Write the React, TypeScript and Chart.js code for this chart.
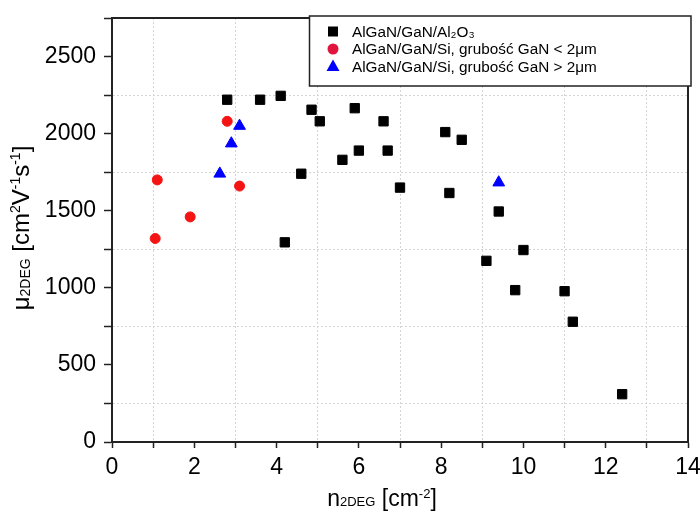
import React, { useEffect, useRef } from 'react';
import { Chart, registerables } from 'chart.js';

Chart.register(...registerables);

const FONT = '"Liberation Sans", Arial, Helvetica, sans-serif';

// AlGaN/GaN/Al2O3 (black squares)
const sapphireN = [2.8, 3.6, 4.1, 4.85, 5.05, 5.9, 6.6, 4.6, 4.2, 5.6, 6.0, 6.7, 7.0, 8.1, 8.5, 8.2, 9.4, 10.0, 9.1, 9.8, 11.0, 11.2, 12.4];
const sapphireMu = [2220, 2220, 2245, 2155, 2080, 2165, 2080, 1740, 1295, 1830, 1890, 1890, 1650, 2010, 1960, 1615, 1495, 1245, 1175, 985, 978, 780, 310];

// AlGaN/GaN/Si, GaN < 2 µm (red circles)
const siThinN = [1.1, 1.9, 1.05, 2.8, 3.1];
const siThinMu = [1700, 1460, 1320, 2080, 1660];

// AlGaN/GaN/Si, GaN > 2 µm (blue triangles)
const siThickN = [2.62, 2.9, 3.1, 9.4];
const siThickMu = [1740, 1936, 2050, 1683];

const seriesLabels = [
  'AlGaN/GaN/Al₂O₃',
  'AlGaN/GaN/Si, grubość GaN < 2μm',
  'AlGaN/GaN/Si, grubość GaN > 2μm',
];

const xTickLabels = [0, 2, 4, 6, 8, 10, 12, 14];
const yTickLabels = [0, 500, 1000, 1500, 2000, 2500];

type Run = { t: string; size: number; dy: number };

const xTitleRuns: Run[] = [
  { t: 'n', size: 23, dy: 0 },
  { t: '2DEG', size: 13, dy: 0 },
  { t: ' [cm', size: 23, dy: 0 },
  { t: '-2', size: 13, dy: -8 },
  { t: ']', size: 23, dy: 0 },
];

const yTitleRuns: Run[] = [
  { t: 'μ', size: 24, dy: 0 },
  { t: '2DEG', size: 14, dy: 1 },
  { t: ' [cm', size: 24, dy: 0 },
  { t: '2', size: 14, dy: -9 },
  { t: 'V', size: 24, dy: 0 },
  { t: '-1', size: 14, dy: -9 },
  { t: 's', size: 24, dy: 0 },
  { t: '-1', size: 14, dy: -9 },
  { t: ']', size: 24, dy: 0 },
];

function runsWidth(ctx: CanvasRenderingContext2D, runs: Run[]) {
  let w = 0;
  for (const r of runs) {
    ctx.font = `${r.size}px ${FONT}`;
    w += ctx.measureText(r.t).width;
  }
  return w;
}

function drawRuns(ctx: CanvasRenderingContext2D, runs: Run[], x: number, y: number) {
  let cx = x;
  ctx.textBaseline = 'alphabetic';
  ctx.textAlign = 'left';
  for (const r of runs) {
    ctx.font = `${r.size}px ${FONT}`;
    ctx.fillText(r.t, cx, y + r.dy);
    cx += ctx.measureText(r.t).width;
  }
}

function drawMarker(ctx: CanvasRenderingContext2D, style: string, x: number, y: number, color: string) {
  ctx.save();
  ctx.fillStyle = color;
  ctx.beginPath();
  if (style === 'rect') {
    ctx.rect(x - 5, y - 5, 10, 10);
  } else if (style === 'circle') {
    ctx.arc(x, y, 5.5, 0, Math.PI * 2);
  } else {
    ctx.moveTo(x, y - 7);
    ctx.lineTo(x + 6.5, y + 4.5);
    ctx.lineTo(x - 6.5, y + 4.5);
    ctx.closePath();
  }
  ctx.fill();
  ctx.restore();
}

const framePlugin = {
  id: 'frame',
  beforeDatasetsDraw(chart: any) {
    const { ctx, chartArea } = chart;
    ctx.save();
    ctx.strokeStyle = '#222';
    ctx.lineWidth = 2;
    ctx.beginPath();
    ctx.moveTo(chartArea.left, chartArea.top);
    ctx.lineTo(chartArea.right, chartArea.top);
    ctx.lineTo(chartArea.right, chartArea.bottom);
    ctx.stroke();
    ctx.restore();
  },
  afterDraw(chart: any) {
    const { ctx } = chart;
    ctx.save();
    ctx.fillStyle = '#000';
    // x title
    const xw = runsWidth(ctx, xTitleRuns);
    drawRuns(ctx, xTitleRuns, 382 - xw / 2, 506);
    // y title
    const yw = runsWidth(ctx, yTitleRuns);
    ctx.translate(29, 228);
    ctx.rotate(-Math.PI / 2);
    drawRuns(ctx, yTitleRuns, -yw / 2, 0);
    ctx.restore();

    // legend box
    ctx.save();
    const bx = 309.5, by = 16, bw = 381.5, bh = 70;
    ctx.fillStyle = '#fff';
    ctx.fillRect(bx, by, bw, bh);
    ctx.strokeStyle = '#222';
    ctx.lineWidth = 1.5;
    ctx.strokeRect(bx, by, bw, bh);
    const rows = [31.5, 49, 66.5];
    chart.data.datasets.forEach((ds: any, i: number) => {
      drawMarker(ctx, ds.pointStyle, 333, rows[i], ds.legendColor || ds.backgroundColor);
      ctx.fillStyle = '#000';
      ctx.font = `15.3px ${FONT}`;
      ctx.textBaseline = 'middle';
      ctx.textAlign = 'left';
      ctx.fillText(ds.label, 352, rows[i] + 1);
    });
    ctx.restore();
  },
};

export default function App() {
  const ref = useRef<HTMLCanvasElement>(null);

  useEffect(() => {
    if (!ref.current) return;
    const toPts = (xs: number[], ys: number[]) => xs.map((x, i) => ({ x, y: ys[i] }));
    const chart = new Chart(ref.current, {
      type: 'scatter',
      data: {
        datasets: [
          {
            label: seriesLabels[0],
            data: toPts(sapphireN, sapphireMu),
            pointStyle: 'rect',
            backgroundColor: '#000',
            borderColor: '#000',
            borderWidth: 1,
            pointRadius: 6.6,
          } as any,
          {
            label: seriesLabels[1],
            data: toPts(siThinN, siThinMu),
            pointStyle: 'circle',
            backgroundColor: '#f41414',
            borderColor: '#f41414',
            legendColor: '#e0143c',
            borderWidth: 1,
            pointRadius: 5,
          } as any,
          {
            label: seriesLabels[2],
            data: toPts(siThickN, siThickMu),
            pointStyle: 'triangle',
            backgroundColor: '#0000ff',
            borderColor: '#0000ff',
            borderWidth: 1,
            pointRadius: 6.8,
          } as any,
        ],
      },
      options: {
        responsive: false,
        animation: false,
        layout: { padding: { left: 0, top: 18, right: 12, bottom: 0 } },
        plugins: {
          legend: { display: false },
          tooltip: { enabled: false },
        },
        scales: {
          x: {
            type: 'linear',
            min: 0,
            max: 14,
            afterFit: (s: any) => { s.height = 70; s.paddingLeft = 0; s.paddingRight = 0; },
            ticks: {
              stepSize: 1,
              autoSkip: false,
              maxRotation: 0,
              padding: 6,
              color: '#000',
              font: { family: FONT, size: 23 },
              callback: (v: any) => (xTickLabels.includes(Number(v)) ? `${v}` : ''),
            },
            grid: {
              color: (c: any) => (c.tick && Math.abs(c.tick.value % 2) === 1 ? '#d4d4d4' : 'rgba(0,0,0,0)'),
              lineWidth: 1,
              tickColor: '#222',
              tickWidth: 1.5,
              tickLength: 6,
              tickBorderDash: [],
            } as any,
            border: { display: true, color: '#222', width: 2, dash: [2, 2] },
            title: { display: false },
          },
          y: {
            type: 'linear',
            min: 0,
            max: 2750,
            afterFit: (s: any) => { s.width = 112; s.paddingTop = 0; s.paddingBottom = 0; },
            ticks: {
              stepSize: 250,
              autoSkip: false,
              padding: 8,
              color: '#000',
              font: { family: FONT, size: 23 },
              callback: (v: any) => (yTickLabels.includes(Number(v)) ? `${v}` : ''),
            },
            grid: {
              color: (c: any) => (c.tick && c.tick.value % 500 === 250 ? '#d4d4d4' : 'rgba(0,0,0,0)'),
              lineWidth: 1,
              tickColor: '#222',
              tickWidth: 1.5,
              tickLength: 8,
              tickBorderDash: [],
            } as any,
            border: { display: true, color: '#222', width: 2, dash: [2, 2] },
            title: { display: false },
          },
        },
      },
      plugins: [framePlugin],
    });
    return () => chart.destroy();
  }, []);

  return (
    <div style={{ position: 'absolute', left: 0, top: 0, width: 700, height: 512, background: '#fff' }}>
      <canvas ref={ref} width={700} height={512} style={{ display: 'block' }} />
    </div>
  );
}
